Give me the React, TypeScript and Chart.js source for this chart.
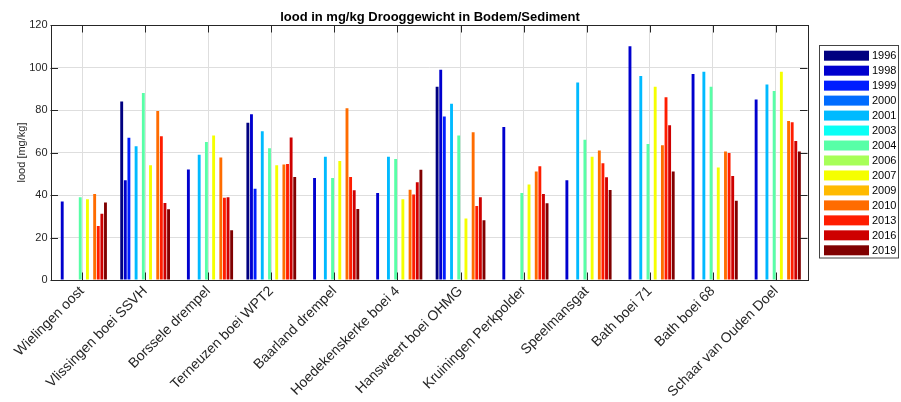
import React, { useEffect, useRef } from "react";
import { Chart, registerables } from "chart.js";

Chart.register(...registerables);

const categories = [
  "Wielingen oost",
  "Vlissingen boei SSVH",
  "Borssele drempel",
  "Terneuzen boei WPT2",
  "Baarland drempel",
  "Hoedekenskerke boei 4",
  "Hansweert boei OHMG",
  "Kruiningen Perkpolder",
  "Speelmansgat",
  "Bath boei 71",
  "Bath boei 68",
  "Schaar van Ouden Doel",
];

const years = ["1996", "1998", "1999", "2000", "2001", "2003", "2004", "2006", "2007", "2009", "2010", "2013", "2016", "2019"];

const N = null;
const v1996 = [N, 84, N, 74, N, N, 91, N, N, N, N, N];
const v1998 = [37, 47, 52, 78, 48, 41, 99, 72, 47, 110, 97, 85];
const v1999 = [N, 67, N, 43, N, N, 77, N, N, N, N, N];
const v2000 = [N, N, N, N, N, N, N, N, N, N, N, N];
const v2001 = [N, 63, 59, 70, 58, 58, 83, N, 93, 96, 98, 92];
const v2003 = [N, N, N, N, N, N, N, N, N, N, N, N];
const v2004 = [39, 88, 65, 62, 48, 57, 68, 41, 66, 64, 91, 89];
const v2006 = [N, N, N, N, N, N, N, N, N, N, N, N];
const v2007 = [38, 54, 68, 54, 56, 38, 29, 45, 58, 91, 53, 98];
const v2009 = [N, N, N, N, N, N, N, N, N, N, N, N];
const v2010 = [40.5, 79.5, 57.6, 54.3, 80.8, 42.5, 69.5, 51.1, 60.9, 63.4, 60.5, 74.8];
const v2013 = [25.4, 67.6, 38.7, 54.6, 48.5, 40.2, 34.8, 53.5, 54.9, 86, 59.8, 74.2];
const v2016 = [31.2, 36.2, 38.9, 67.1, 42.2, 46, 38.9, 40.5, 48.3, 72.8, 48.9, 65.4];
const v2019 = [36.5, 33.3, 23.4, 48.5, 33.4, 51.9, 28.1, 36.1, 42.4, 51.1, 37.3, 60.5];

const seriesValues = [v1996, v1998, v1999, v2000, v2001, v2003, v2004, v2006, v2007, v2009, v2010, v2013, v2016, v2019];

const colors = [
  "#000080", "#0000CE", "#001DFF", "#006CFF", "#00BAFF", "#0AFFF5", "#58FFA7",
  "#A7FF58", "#F5FF00", "#FFBA00", "#FF6C00", "#FF1D00", "#CE0000", "#800000",
];

const yTicks = [0, 20, 40, 60, 80, 100, 120];

const title = "lood in mg/kg Drooggewicht in Bodem/Sediment";
const yTitle = "lood [mg/kg]";

const FONT = "'Liberation Sans', Arial, Helvetica, sans-serif";
const AXIS = "#262626";

const decorPlugin = {
  id: "decor",
  afterDraw(chart: any) {
    const ctx = chart.ctx;
    const { left, right, top, bottom } = chart.chartArea;
    const xs = chart.scales.x;
    const ys = chart.scales.y;
    ctx.save();
    ctx.strokeStyle = AXIS;
    ctx.lineWidth = 1;
    ctx.beginPath();
    const tl = 7.5;
    for (let i = 0; i < categories.length; i++) {
      const px = Math.round(xs.getPixelForValue(i)) + 0.5;
      ctx.moveTo(px, bottom);
      ctx.lineTo(px, bottom - tl);
      ctx.moveTo(px, top);
      ctx.lineTo(px, top + tl);
    }
    for (const v of yTicks) {
      const py = Math.round(ys.getPixelForValue(v)) + 0.5;
      ctx.moveTo(left, py);
      ctx.lineTo(left + tl, py);
      ctx.moveTo(right, py);
      ctx.lineTo(right - tl, py);
    }
    ctx.stroke();
    ctx.strokeRect(Math.round(left) + 0.5, Math.round(top) + 0.5, Math.round(right) - Math.round(left), Math.round(bottom) - Math.round(top));

    // title
    ctx.fillStyle = "#000";
    ctx.font = `bold 13px ${FONT}`;
    ctx.textAlign = "center";
    ctx.textBaseline = "alphabetic";
    ctx.fillText(title, (left + right) / 2 + 1, 21);

    // y title
    ctx.save();
    ctx.translate(21.5, (top + bottom) / 2);
    ctx.rotate(-Math.PI / 2);
    ctx.font = `11px ${FONT}`;
    ctx.fillStyle = AXIS;
    ctx.textAlign = "center";
    ctx.textBaseline = "middle";
    ctx.fillText(yTitle, 0, 0);
    ctx.restore();

    // legend
    const lx = 819.5, ly = 45.5, lw = 79, lh = 212.5;
    ctx.fillStyle = "#fff";
    ctx.fillRect(lx, ly, lw, lh);
    ctx.strokeStyle = "#444";
    ctx.strokeRect(lx, ly, lw, lh);
    ctx.font = `11px ${FONT}`;
    ctx.textAlign = "left";
    ctx.textBaseline = "middle";
    chart.data.datasets.forEach((ds: any, i: number) => {
      const by = 50.7 + i * 14.97;
      ctx.fillStyle = ds.backgroundColor;
      ctx.fillRect(824, by, 45, 10);
      ctx.fillStyle = "#000";
      ctx.fillText(ds.label, 872, by + 5.5);
    });
    ctx.restore();
  },
};

export default function App() {
  const ref = useRef<HTMLCanvasElement | null>(null);
  useEffect(() => {
    document.body.style.margin = "0";
    const canvas = ref.current;
    if (!canvas) return;
    const chart = new Chart(canvas, {
      type: "bar",
      data: {
        labels: categories,
        datasets: years.map((y, i) => ({
          label: y,
          data: seriesValues[i],
          backgroundColor: colors[i],
          borderWidth: 0,
          categoryPercentage: 0.8,
          barPercentage: 0.8,
        })),
      },
      options: {
        responsive: false,
        animation: false,
        devicePixelRatio: 1,
        layout: { padding: { left: 0, right: 93.5, top: 25, bottom: 0 } },
        plugins: {
          legend: { display: false },
          title: { display: false },
          tooltip: { enabled: false },
        },
        scales: {
          x: {
            offset: true,
            grid: { offset: false, color: "#DEDEDE", drawTicks: false },
            border: { display: false },
            ticks: {
              autoSkip: false,
              minRotation: 45,
              maxRotation: 45,
              padding: 3,
              color: AXIS,
              font: { family: FONT, size: 14 },
            },
            afterFit: (s: any) => {
              s.height = 122;
            },
          },
          y: {
            min: 0,
            max: 120,
            grid: { color: "#DEDEDE", drawTicks: false },
            border: { display: false },
            ticks: {
              stepSize: 20,
              padding: 3,
              color: AXIS,
              font: { family: FONT, size: 11 },
            },
            afterFit: (s: any) => {
              s.width = 50.5;
            },
          },
        },
      },
      plugins: [decorPlugin],
    });
    return () => chart.destroy();
  }, []);
  return (
    <div style={{ width: 901, height: 402 }}>
      <canvas ref={ref} width={901} height={402} style={{ display: "block" }} />
    </div>
  );
}
